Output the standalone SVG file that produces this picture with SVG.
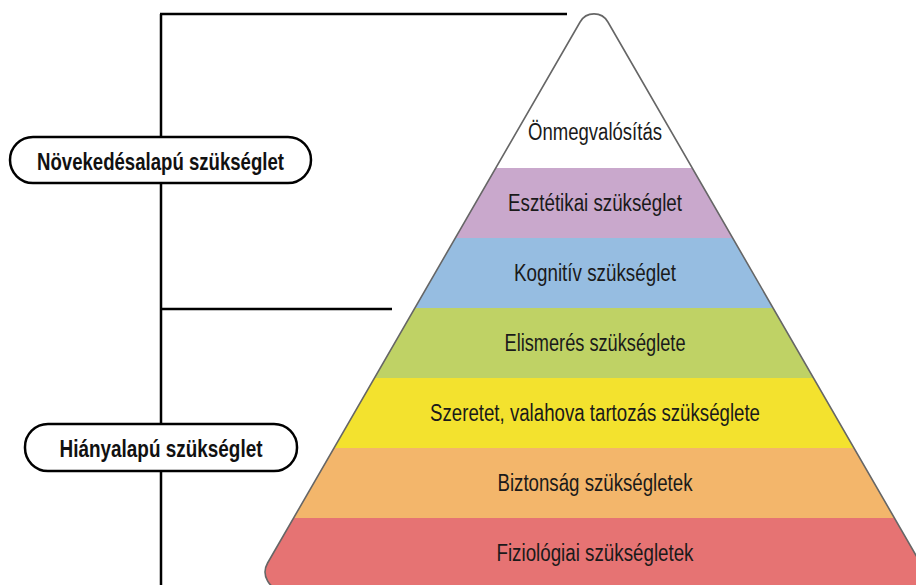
<svg xmlns="http://www.w3.org/2000/svg" width="916" height="585" viewBox="0 0 916 585">
<style>
.band{font-family:"Liberation Sans Narrow","Liberation Sans",Arial,sans-serif;font-size:23px;fill:#1a1a1a;text-anchor:middle}
.lbl{font-family:"Liberation Sans Narrow","Liberation Sans",Arial,sans-serif;font-size:24px;font-weight:bold;fill:#111;text-anchor:middle}
.box{fill:#fff;stroke:#000;stroke-width:2.5}
.conn{stroke:#000;stroke-width:2.5;fill:none}
</style>
<defs>
<clipPath id="pc"><path id="pyr" d="M267.6,563 L580.1,22 A16,16 0 0 1 607.9,22 L920.4,563 A18,18 0 0 1 905,590 L283,590 A18,18 0 0 1 267.6,563 Z"/></clipPath>
</defs>
<g id="connectors">
<line class="conn" x1="161" y1="14" x2="161" y2="585"/>
<line class="conn" x1="160" y1="14" x2="567" y2="14"/>
<line class="conn" x1="160" y1="309" x2="392" y2="309"/>
</g>
<g id="pyramid">
<g clip-path="url(#pc)">
<rect x="240" y="0" width="700" height="168" fill="#ffffff"/>
<rect x="240" y="168" width="700" height="70" fill="#c9a8cc"/>
<rect x="240" y="238" width="700" height="70" fill="#96bde1"/>
<rect x="240" y="308" width="700" height="70" fill="#bfd265"/>
<rect x="240" y="378" width="700" height="70" fill="#f3e22e"/>
<rect x="240" y="448" width="700" height="70" fill="#f3b66b"/>
<rect x="240" y="518" width="700" height="80" fill="#e67373"/>
</g>
<path d="M267.6,563 L580.1,22 A16,16 0 0 1 607.9,22 L920.4,563 A18,18 0 0 1 905,590 L283,590 A18,18 0 0 1 267.6,563 Z" fill="none" stroke="#666" stroke-width="1.6"/>
</g>
<g id="level7"><text class="band" x="595" y="140" textLength="134" lengthAdjust="spacingAndGlyphs">Önmegvalósítás</text></g>
<g id="level6"><text class="band" x="595" y="211" textLength="174" lengthAdjust="spacingAndGlyphs">Esztétikai szükséglet</text></g>
<g id="level5"><text class="band" x="595" y="281" textLength="162" lengthAdjust="spacingAndGlyphs">Kognitív szükséglet</text></g>
<g id="level4"><text class="band" x="595" y="351" textLength="181" lengthAdjust="spacingAndGlyphs">Elismerés szükséglete</text></g>
<g id="level3"><text class="band" x="595" y="421" textLength="330" lengthAdjust="spacingAndGlyphs">Szeretet, valahova tartozás szükséglete</text></g>
<g id="level2"><text class="band" x="595" y="491" textLength="195" lengthAdjust="spacingAndGlyphs">Biztonság szükségletek</text></g>
<g id="level1"><text class="band" x="595" y="561" textLength="197" lengthAdjust="spacingAndGlyphs">Fiziológiai szükségletek</text></g>
<g id="growth">
<rect class="box" x="10" y="137" width="301" height="46" rx="23"/>
<text class="lbl" x="160.5" y="170" textLength="247" lengthAdjust="spacingAndGlyphs">Növekedésalapú szükséglet</text>
</g>
<g id="deficit">
<rect class="box" x="25" y="424" width="272" height="47" rx="23"/>
<text class="lbl" x="161" y="457" textLength="203" lengthAdjust="spacingAndGlyphs">Hiányalapú szükséglet</text>
</g>
</svg>
